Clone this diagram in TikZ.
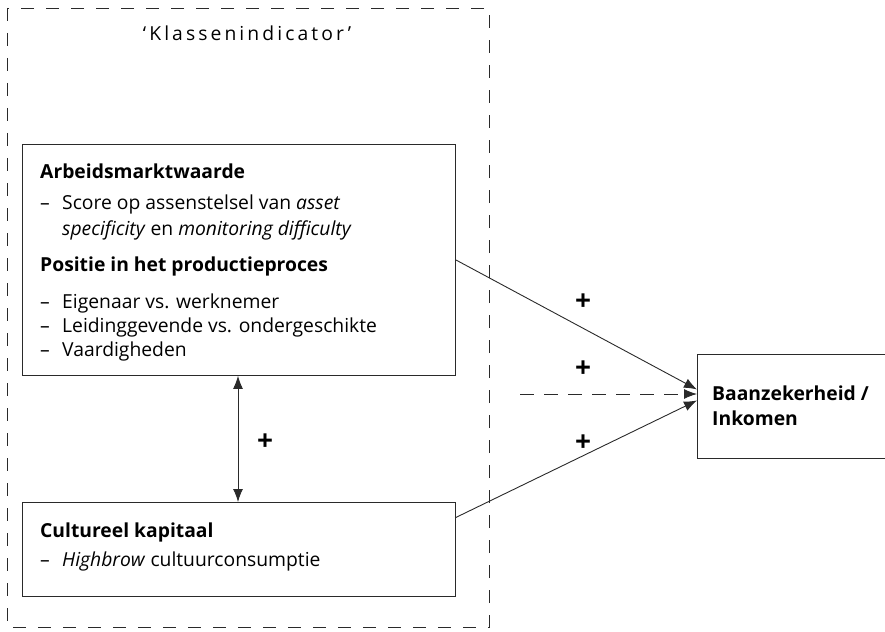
\documentclass[tikz,border=0pt]{standalone}
\usepackage{fontspec}
\setmainfont{Open Sans}
\newfontfamily\spacedfont[LetterSpace=16]{Open Sans}
\usetikzlibrary{arrows.meta,calc}
\newcommand\dashit{\makebox[22pt][l]{–}}
\definecolor{linec}{HTML}{2A2A2A}
\begin{document}
\begin{tikzpicture}[x=1pt,y=-1pt,
  every node/.style={font=\fontsize{19.3}{24}\selectfont, text=black},
  box/.style={draw=linec, line width=0.9pt, rectangle, inner sep=0pt, anchor=north west},
  txt/.style={inner sep=0pt, anchor=north west, align=left},
  arr/.style={draw=linec, line width=0.9pt, -{Latex[length=13pt,width=10pt]}},
  darr/.style={draw=linec, line width=0.9pt, {Latex[length=13pt,width=10pt]}-{Latex[length=13pt,width=10pt]}},
  outer/.style={draw=linec, line width=0.9pt, dash pattern=on 13pt off 12pt},
  plus/.style={font=\fontsize{28}{28}\selectfont\bfseries, inner sep=0pt}]
\useasboundingbox (0,0) rectangle (885,631);
% outer dashed frame
\draw[outer] (7,8) rectangle (489,627);
\node[inner sep=0pt, anchor=base] (title) at (247,41) {\spacedfont ‘Klassenindicator’};
% boxes
\node[box, minimum width=433pt, minimum height=231pt] (arb) at (22,144) {};
\node[box, minimum width=433pt, minimum height=94pt] (cult) at (22,502) {};
\node[box, minimum width=220pt, minimum height=104pt] (bz) at (697,354) {};
% texts
\node[txt] (arbtext) at (40,164) {\textbf{Arbeidsmarktwaarde}\\[7pt]
\dashit Score op assenstelsel van \textit{asset}\\[2pt]
\hspace*{22pt}\textit{specificity} en \textit{monitoring difficulty}\\[12pt]
\textbf{Positie in het productieproces}\\[13pt]
\dashit Eigenaar vs. werknemer\\
\dashit Leidinggevende vs. ondergeschikte\\
\dashit Vaardigheden};
\node[txt] (culttext) at (40,523) {\textbf{Cultureel kapitaal}\\[5pt]
\dashit\textit{Highbrow} cultuurconsumptie};
\node[txt] (bztext) at (712,386) {\textbf{Baanzekerheid /}\\[1pt]\textbf{Inkomen}};
% connectors
\coordinate (vx) at (238,0);
\draw[darr] (arb.south -| vx) -- (cult.north -| vx);
\node[plus] (p0) at (265,442) {+};
\draw[arr] (arb.east) -- ([yshift=17pt]bz.west);
\coordinate (dstart) at (520,394);
\draw[arr, dash pattern=on 14pt off 10pt] (dstart) -- (bz.west |- dstart);
\draw[arr] ([yshift=32pt]cult.east) -- ([yshift=6pt]bz.west);
\node[plus] (p1) at (583,302) {+};
\node[plus] (p2) at (583,369) {+};
\node[plus] (p3) at (583,443) {+};
\end{tikzpicture}
\end{document}
